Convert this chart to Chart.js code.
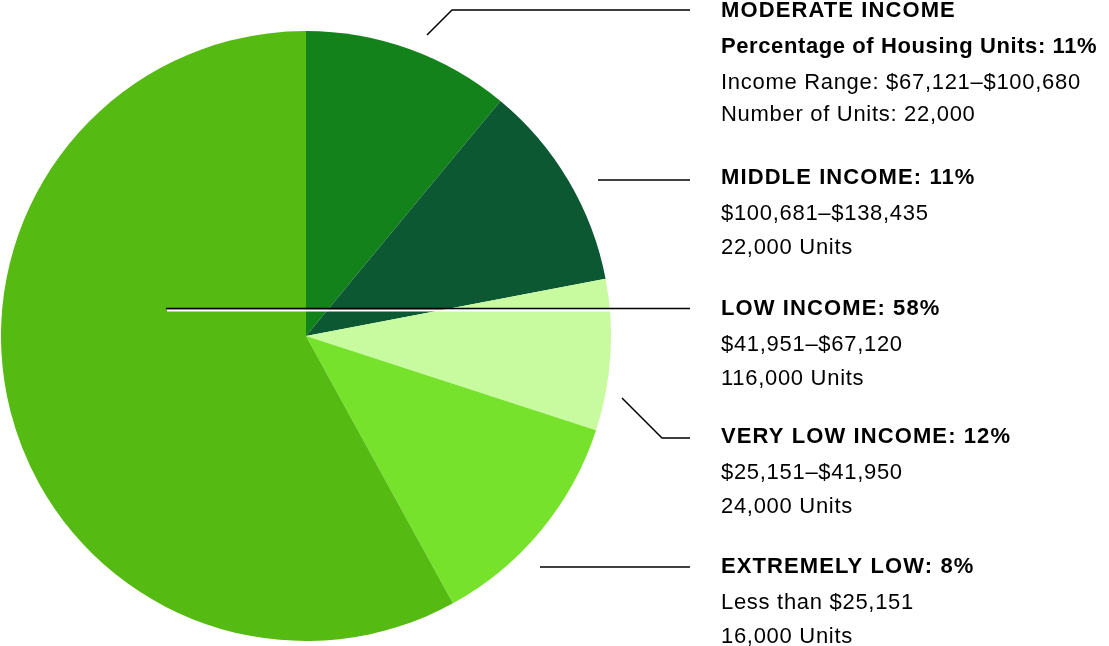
<!DOCTYPE html>
<html lang="en">
<head>
  <meta charset="UTF-8" />
  <title>Housing Units by Income</title>
  <style>
    body { margin: 0; background: #fff; }
    .chart-container { width: 1109px; height: 646px; }
  </style>
  <script src="https://cdn.jsdelivr.net/npm/chart.js"></script>
</head>
<body>
  <div class="chart-container">
    <canvas id="incomeChart" width="1109" height="646"></canvas>
  </div>

  <script>
    // slices, clockwise from 12 o'clock
    const categories = ["Moderate Income", "Middle Income", "Extremely Low", "Very Low Income", "Low Income"];
    const shares = [11, 11, 8, 12, 58];
    const sliceColors = ["#13821a", "#0b5833", "#c8faa0", "#76e22b", "#55ba11"];

    // label blocks, top to bottom (first line(s) bold)
    const labelBlocks = [
      { bold: ["MODERATE INCOME", "Percentage of Housing Units: 11%"], plain: ["Income Range: $67,121–$100,680", "Number of Units: 22,000"] },
      { bold: ["MIDDLE INCOME: 11%"], plain: ["$100,681–$138,435", "22,000 Units"] },
      { bold: ["LOW INCOME: 58%"], plain: ["$41,951–$67,120", "116,000 Units"] },
      { bold: ["VERY LOW INCOME: 12%"], plain: ["$25,151–$41,950", "24,000 Units"] },
      { bold: ["EXTREMELY LOW: 8%"], plain: ["Less than $25,151", "16,000 Units"] }
    ];

    const blockTops = [11, 178, 309, 437, 567];

    // leader lines (annotation paths)
    const leaders = [
      [[427, 35], [452, 10], [690, 10]],
      [[598, 180], [690, 180]],
      [[166, 308.5], [690, 308.5]],
      [[622, 398], [662, 438], [690, 438]],
      [[540, 567], [690, 567]]
    ];

    const labelsPlugin = {
      id: "sideLabels",
      afterDraw(chart) {
        const ctx = chart.ctx;
        ctx.save();

        // white gap under the low income line, inside the pie
        ctx.strokeStyle = "#fff";
        ctx.lineWidth = 2;
        ctx.beginPath();
        ctx.moveTo(167, 310.5);
        ctx.lineTo(610, 310.5);
        ctx.stroke();

        ctx.strokeStyle = "#000";
        ctx.lineWidth = 1.5;
        leaders.forEach(pts => {
          ctx.beginPath();
          ctx.moveTo(pts[0][0], pts[0][1]);
          for (let i = 1; i < pts.length; i++) ctx.lineTo(pts[i][0], pts[i][1]);
          ctx.stroke();
        });

        ctx.fillStyle = "#000";
        ctx.textBaseline = "middle";
        ctx.textAlign = "left";
        labelBlocks.forEach((b, i) => {
          let y = blockTops[i];
          b.bold.forEach(t => {
            ctx.font = "bold 22px 'Liberation Sans', Arial, sans-serif";
            // all-caps headers run wider in the original
            ctx.letterSpacing = (t === t.toUpperCase()) ? "1.1px" : "0.6px";
            ctx.fillText(t, 721, y);
            y += 36;
          });
          b.plain.forEach(t => {
            ctx.font = "22px 'Liberation Sans', Arial, sans-serif";
            ctx.letterSpacing = "0.7px";
            ctx.fillText(t, 721, y);
            y += (i === 0) ? 32 : 34;
          });
        });
        ctx.restore();
      }
    };

    new Chart(document.getElementById("incomeChart"), {
      type: "pie",
      data: {
        labels: categories,
        datasets: [{
          data: shares,
          backgroundColor: sliceColors,
          borderWidth: 0
        }]
      },
      options: {
        responsive: false,
        animation: false,
        layout: { padding: { left: 1, top: 31, right: 498, bottom: 5 } },
        plugins: {
          legend: { display: false },
          tooltip: { enabled: false }
        }
      },
      plugins: [labelsPlugin]
    });
  </script>
</body>
</html>
